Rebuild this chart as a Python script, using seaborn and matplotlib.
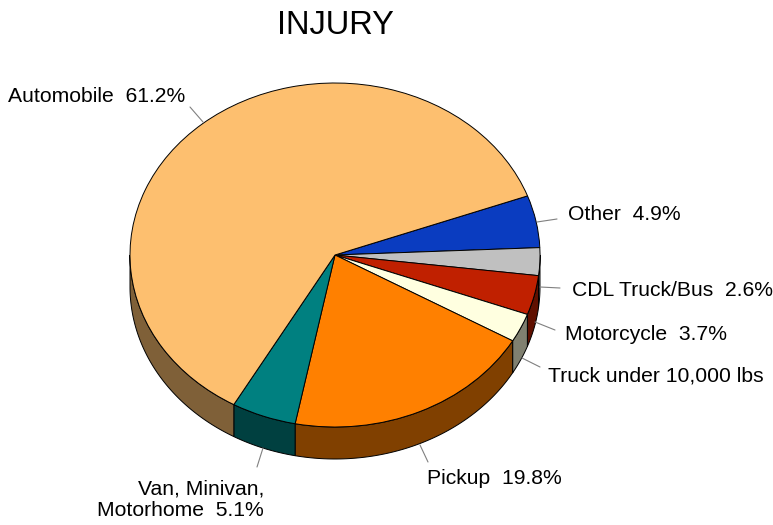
import numpy as np
import matplotlib
matplotlib.use("Agg")
import matplotlib.pyplot as plt
from matplotlib.patches import Wedge, Polygon
from matplotlib.transforms import Affine2D
import matplotlib.colors as mcolors
import seaborn as sns

sns.set_theme(style="white")
plt.rcParams['font.family'] = ['Liberation Sans', 'DejaVu Sans']

title = "INJURY"
categories = ["Other", "CDL Truck/Bus", "Motorcycle", "Truck under 10,000 lbs",
              "Pickup", "Van, Minivan,\nMotorhome", "Automobile"]
values = [4.9, 2.6, 3.7, 2.7, 19.8, 5.1, 61.2]
colors = ["#0A3CC0", "#C0C0C0", "#C02000", "#FFFFE0", "#FF8000", "#008080", "#FDBF6F"]

W, H = 773, 525
fig = plt.figure(figsize=(W / 100, H / 100), dpi=100)
ax = fig.add_axes([0, 0, 1, 1])
ax.set_xlim(0, W)
ax.set_ylim(0, H)
ax.axis('off')

cx, cy = 335, H - 255
rx, ry = 205, 172
depth = 32
start = 20.1

tr = Affine2D().scale(1, ry / rx).translate(cx, cy) + ax.transData

total = sum(values)
angles = []
a = start
for v in values:
    span = v / total * 360
    angles.append((a - span, a))
    a -= span

def dark(c, f=0.5):
    r, g, b = mcolors.to_rgb(c)
    return (r * f, g * f, b * f)

sides = []
for (lo, hi), col in zip(angles, colors):
    for k in range(-2, 3):
        s = max(lo, -180 + 360 * k)
        e = min(hi, 0 + 360 * k)
        if e > s:
            t = np.radians(np.linspace(s, e, 80))
            xs = cx + rx * np.cos(t)
            ys = cy + ry * np.sin(t)
            pts = np.column_stack([np.concatenate([xs, xs[::-1]]),
                                   np.concatenate([ys, ys[::-1] - depth])])
            sides.append(Polygon(pts, closed=True, facecolor=dark(col),
                                 edgecolor='black', linewidth=0.7))
for p in sides:
    ax.add_patch(p)

for (lo, hi), col in zip(angles, colors):
    w = Wedge((0, 0), rx, lo, hi, facecolor=col, edgecolor='black',
              linewidth=0.7, transform=tr)
    ax.add_patch(w)

ax.text(cx, H - 25, title, ha='center', va='center', fontsize=23.5, color='black')

# labels: (text x, text y, ha, line start, line end) in pixel coords
label_pos = [
    (568, 215, 'left', (537, 222), (557, 219)),
    (572, 291, 'left', (540, 287), (560, 288)),
    (565, 335, 'left', (535, 322), (555, 330)),
    (548, 376, 'left', (522, 358), (540, 367)),
    (427, 478, 'left', (420, 445), (428, 462)),
    (264, 500, 'right', (263, 448), (257, 467)),
    (8, 96, 'left', (190, 107), (203, 122)),
]
for cat, v, (tx, ty, ha, p0, p1) in zip(categories, values, label_pos):
    ax.plot([p0[0], p1[0]], [H - p0[1], H - p1[1]], color='#808080', linewidth=0.8)
    ax.text(tx, H - ty, f"{cat}  {v:.1f}%", ha=ha, va='center', fontsize=15.2,
            color='black', multialignment='right', linespacing=1.15)

fig.savefig("out.png", dpi=100)
